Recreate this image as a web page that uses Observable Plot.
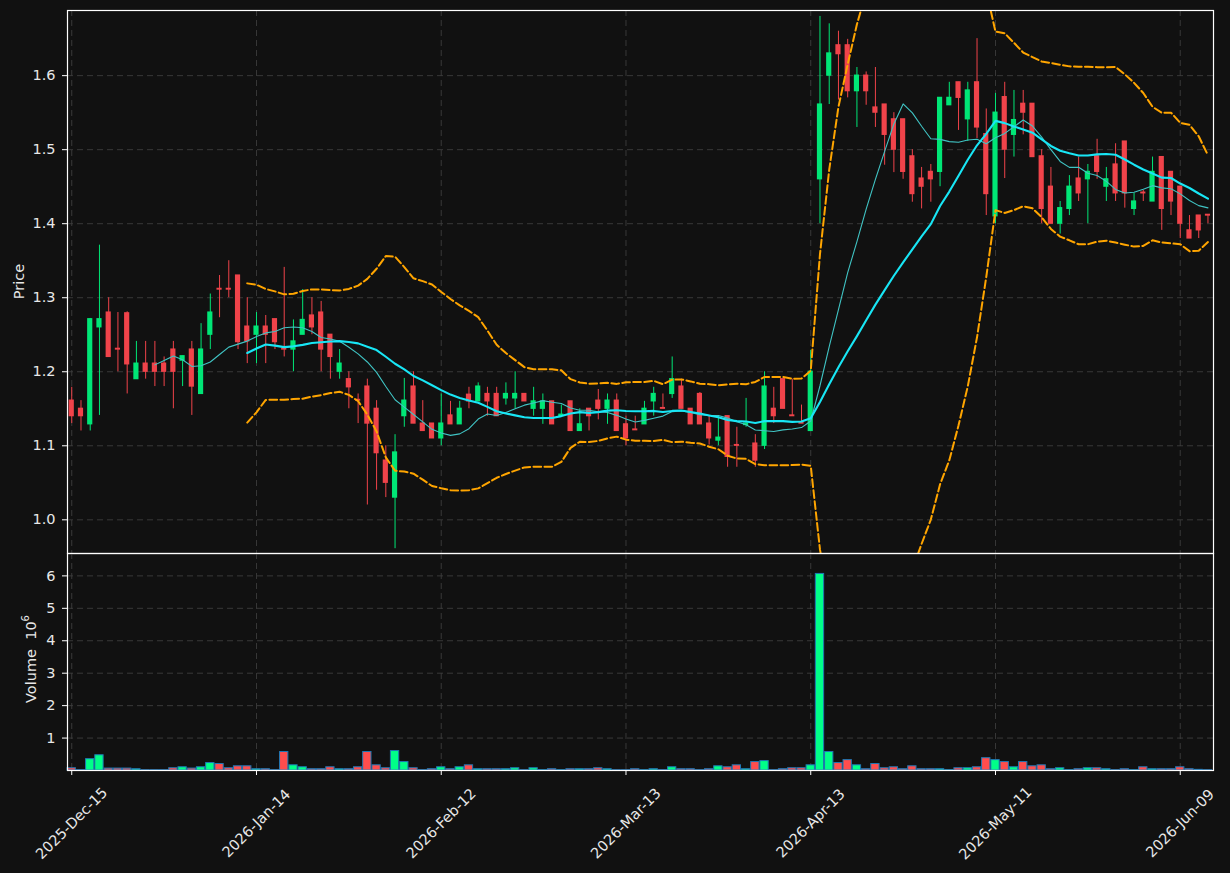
<!DOCTYPE html>
<html><head><meta charset="utf-8">
<script src="https://cdn.jsdelivr.net/npm/d3@7"></script>
<script src="https://cdn.jsdelivr.net/npm/@observablehq/plot@0.6"></script>
<style>
html,body{margin:0;padding:0;background:#111111;}
#chart{position:relative;width:1230px;height:873px;background:#111111;overflow:hidden;}
#chart svg{position:absolute;left:0;overflow:visible;}
#chart svg text{font-family:"DejaVu Sans", sans-serif !important;}
</style></head><body><div id="chart"></div>
<script>
// ---- data (trading-day index based) ----
const tickIndex = [0, 20, 40, 60, 80, 100, 120];
const tickLabels = ["2025-Dec-15", "2026-Jan-14", "2026-Feb-12", "2026-Mar-13", "2026-Apr-13", "2026-May-11", "2026-Jun-09"];
const priceTicks = [1.0, 1.1, 1.2, 1.3, 1.4, 1.5, 1.6];
const volumeTicks = [1, 2, 3, 4, 5, 6];

const open = [1.161,1.150,1.129,1.260,1.280,1.231,1.279,1.190,1.211,1.211,1.211,1.230,1.215,1.230,1.170,1.250,1.312,1.312,1.330,1.261,
1.250,1.261,1.271,1.231,1.230,1.250,1.276,1.280,1.250,1.200,1.190,1.162,1.180,1.150,1.080,1.030,1.140,1.180,1.130,1.130,
1.110,1.141,1.129,1.169,1.160,1.170,1.170,1.164,1.164,1.170,1.150,1.150,1.160,1.140,1.160,1.120,1.150,1.161,1.150,1.161,
1.129,1.122,1.129,1.160,1.151,1.170,1.180,1.150,1.170,1.130,1.107,1.140,1.101,1.128,1.103,1.100,1.150,1.190,1.141,1.131,
1.120,1.460,1.600,1.641,1.641,1.579,1.600,1.557,1.561,1.541,1.541,1.491,1.461,1.470,1.470,1.560,1.591,1.541,1.591,1.521,
1.410,1.571,1.520,1.562,1.562,1.491,1.450,1.400,1.420,1.461,1.460,1.491,1.450,1.480,1.511,1.420,1.442,1.430,1.490,1.470,
1.450,1.391,1.411,1.412];
const high = [1.179,1.161,1.272,1.371,1.300,1.280,1.281,1.241,1.241,1.241,1.220,1.241,1.221,1.241,1.265,1.305,1.330,1.350,1.330,1.300,
1.280,1.276,1.271,1.341,1.270,1.311,1.300,1.295,1.250,1.230,1.200,1.170,1.190,1.161,1.100,1.115,1.191,1.200,1.161,1.130,
1.170,1.160,1.160,1.179,1.185,1.179,1.179,1.185,1.200,1.170,1.179,1.170,1.160,1.155,1.160,1.150,1.150,1.176,1.170,1.170,
1.140,1.140,1.160,1.179,1.170,1.220,1.190,1.150,1.172,1.140,1.140,1.140,1.125,1.164,1.115,1.200,1.179,1.190,1.190,1.155,
1.229,1.680,1.670,1.660,1.649,1.611,1.605,1.611,1.561,1.550,1.541,1.500,1.476,1.480,1.570,1.591,1.591,1.591,1.650,1.555,
1.576,1.591,1.580,1.580,1.562,1.500,1.476,1.430,1.465,1.490,1.480,1.514,1.476,1.508,1.511,1.441,1.445,1.490,1.490,1.470,
1.450,1.411,1.411,1.412];
const low = [1.130,1.120,1.120,1.141,1.220,1.200,1.170,1.190,1.190,1.180,1.180,1.150,1.180,1.141,1.170,1.230,1.273,1.300,1.230,1.211,
1.211,1.211,1.230,1.220,1.200,1.250,1.250,1.200,1.190,1.190,1.150,1.130,1.020,1.040,1.030,0.961,1.125,1.130,1.120,1.110,
1.100,1.129,1.129,1.150,1.160,1.140,1.140,1.155,1.150,1.160,1.140,1.129,1.129,1.140,1.120,1.120,1.120,1.135,1.129,1.120,
1.100,1.121,1.129,1.140,1.150,1.164,1.150,1.129,1.129,1.101,1.100,1.071,1.071,1.125,1.071,1.095,1.130,1.150,1.140,1.130,
1.120,1.400,1.561,1.567,1.570,1.530,1.560,1.530,1.479,1.469,1.460,1.429,1.420,1.429,1.450,1.560,1.526,1.511,1.515,1.411,
1.400,1.461,1.490,1.520,1.490,1.400,1.400,1.386,1.411,1.430,1.400,1.460,1.430,1.430,1.421,1.411,1.430,1.430,1.391,1.411,
1.380,1.380,1.380,1.400];
const close = [1.140,1.140,1.271,1.271,1.220,1.230,1.210,1.211,1.200,1.200,1.200,1.200,1.221,1.180,1.230,1.280,1.311,1.311,1.240,1.241,
1.261,1.250,1.240,1.230,1.241,1.270,1.260,1.230,1.220,1.211,1.179,1.161,1.130,1.090,1.050,1.091,1.161,1.130,1.120,1.110,
1.130,1.129,1.150,1.160,1.180,1.160,1.140,1.170,1.170,1.160,1.160,1.160,1.129,1.142,1.120,1.129,1.140,1.150,1.161,1.120,
1.110,1.121,1.150,1.170,1.150,1.190,1.150,1.129,1.129,1.110,1.111,1.085,1.100,1.130,1.080,1.180,1.140,1.150,1.140,1.130,
1.200,1.561,1.630,1.629,1.579,1.600,1.579,1.550,1.520,1.500,1.470,1.440,1.450,1.460,1.570,1.570,1.570,1.580,1.530,1.440,
1.550,1.500,1.540,1.550,1.490,1.420,1.400,1.421,1.450,1.441,1.470,1.470,1.460,1.441,1.441,1.430,1.441,1.470,1.420,1.430,
1.400,1.380,1.391,1.411];
// volume in millions of shares
const volume = [0.07,0.01,0.35,0.47,0.06,0.06,0.06,0.04,0.01,0.01,0.01,0.07,0.10,0.06,0.10,0.23,0.20,0.07,0.13,0.13,
0.04,0.04,0.01,0.57,0.16,0.10,0.04,0.04,0.10,0.04,0.04,0.10,0.57,0.16,0.07,0.60,0.26,0.07,0.01,0.04,
0.10,0.04,0.10,0.16,0.04,0.04,0.04,0.04,0.07,0.01,0.07,0.01,0.04,0.01,0.04,0.04,0.04,0.07,0.04,0.01,
0.01,0.04,0.01,0.04,0.01,0.10,0.04,0.04,0.01,0.04,0.13,0.10,0.16,0.04,0.26,0.29,0.01,0.04,0.07,0.07,
0.16,6.06,0.57,0.23,0.32,0.16,0.04,0.20,0.07,0.10,0.04,0.13,0.04,0.04,0.04,0.01,0.07,0.07,0.10,0.38,
0.32,0.26,0.10,0.26,0.13,0.16,0.04,0.07,0.01,0.04,0.07,0.07,0.04,0.01,0.04,0.01,0.10,0.04,0.04,0.04,
0.10,0.04,0.02,0.01];

// ---- derived rows & indicators (rolling mean / Bollinger of the closes) ----
const UP = "#00e676", DOWN = "#f0434a", VUP = "#00ff88", VDOWN = "#ff4d4d";
const rows = close.map((c, i) => {
  const w10 = i >= 9 ? close.slice(i - 9, i + 1) : null;
  const w20 = i >= 19 ? close.slice(i - 19, i + 1) : null;
  const m20 = w20 ? d3.mean(w20) : NaN, sd = w20 ? d3.deviation(w20) : NaN;
  return {i, o: open[i], h: high[i], l: low[i], c, v: volume[i], up: c >= open[i],
    ma10: w10 ? d3.mean(w10) : NaN, ma20: m20, bbU: m20 + 2 * sd, bbL: m20 - 2 * sd};
});

const W = 1230, ML = 67, MR = 17, FS = 14.5;
const xDomain = [-0.46, 123.6];
const GRID = "#3d3d3d", TXT = "#e8e8e8", FONT = "'DejaVu Sans', sans-serif";
const style = {background: "transparent", color: TXT, fontFamily: FONT, fontSize: FS + "px", overflow: "visible"};

const main = Plot.plot({
  width: W, height: 553, marginTop: 10, marginBottom: 0, marginLeft: ML, marginRight: MR,
  style,
  x: {domain: xDomain, axis: null, label: null},
  y: {domain: [0.9545, 1.688], label: null},
  color: {type: "identity"},
  marks: [
    Plot.ruleY(priceTicks, {y: d => d, stroke: GRID, strokeWidth: 0.9, strokeDasharray: "6,4"}),
    Plot.ruleX(tickIndex, {x: d => d, stroke: GRID, strokeWidth: 0.9, strokeDasharray: "6,4"}),
    Plot.ruleX(rows, {x: "i", y1: "l", y2: "h", stroke: d => d.up ? UP : DOWN, strokeWidth: 1}),
    Plot.rect(rows, {x1: d => d.i - 0.28, x2: d => d.i + 0.28,
      y1: d => Math.min(d.o, d.c), y2: d => Math.max(d.o, d.c),
      fill: d => d.up ? UP : DOWN, insetTop: -0.6, insetBottom: -0.6}),
    Plot.lineY(rows, {x: "i", y: "bbU", stroke: "#ffa500", strokeWidth: 2, strokeDasharray: "7.7,3.3", clip: true}),
    Plot.lineY(rows, {x: "i", y: "bbL", stroke: "#ffa500", strokeWidth: 2, strokeDasharray: "7.7,3.3", clip: true}),
    Plot.lineY(rows, {x: "i", y: "ma10", stroke: "#40c4c4", strokeWidth: 1.1, clip: true}),
    Plot.lineY(rows, {x: "i", y: "ma20", stroke: "#18e6f5", strokeWidth: 2.1, clip: true}),
    Plot.frame({stroke: "#ffffff", strokeWidth: 1.2}),
    Plot.axisY(priceTicks, {tickFormat: d => d.toFixed(1), tickSize: 5, tickPadding: 7, stroke: "#ffffff", fill: TXT, label: null, fontSize: FS})
  ]
});
main.style.top = "0px";

const vol = Plot.plot({
  width: W, height: 320, marginTop: 0, marginBottom: 103, marginLeft: ML, marginRight: MR,
  style,
  x: {domain: xDomain, label: null},
  y: {domain: [0, 6.69], label: null},
  color: {type: "identity"},
  marks: [
    Plot.ruleY(volumeTicks, {y: d => d, stroke: GRID, strokeWidth: 0.9, strokeDasharray: "6,4"}),
    Plot.ruleX(tickIndex, {x: d => d, stroke: GRID, strokeWidth: 0.9, strokeDasharray: "6,4"}),
    Plot.rect(rows, {x1: d => d.i - 0.45, x2: d => d.i + 0.45, y1: 0, y2: "v",
      fill: d => d.up ? VUP : VDOWN, stroke: "#1f77b4", strokeWidth: 1}),
    Plot.frame({stroke: "#ffffff", strokeWidth: 1.2}),
    Plot.axisY(volumeTicks, {tickFormat: d => String(d), tickSize: 5, tickPadding: 7, stroke: "#ffffff", fill: TXT, label: null, fontSize: FS}),
    Plot.axisX(tickIndex, {tickFormat: () => "", tickSize: 5, stroke: "#ffffff", label: null}),
    Plot.text(tickIndex, {x: d => d, text: (d, k) => tickLabels[k], frameAnchor: "bottom",
      rotate: -45, textAnchor: "middle", lineAnchor: "middle", dy: 53, fill: TXT, fontSize: FS})
  ]
});
vol.style.top = "553px";

const chart = document.getElementById("chart");
chart.appendChild(main);
chart.appendChild(vol);

// axis titles
d3.select(main).append("text")
  .attr("transform", "translate(19,281.5) rotate(-90)")
  .attr("text-anchor", "middle").attr("dominant-baseline", "central")
  .attr("fill", TXT).style("font-size", FS + "px").text("Price");
const vt = d3.select(vol).append("text")
  .attr("transform", "translate(31,106) rotate(-90)")
  .attr("text-anchor", "middle").attr("dominant-baseline", "central")
  .attr("fill", TXT).style("font-size", FS + "px");
vt.append("tspan").text("Volume\u00a0\u00a010");
vt.append("tspan").attr("dy", -6).style("font-size", "10px").text("6");
</script>
</body></html>
